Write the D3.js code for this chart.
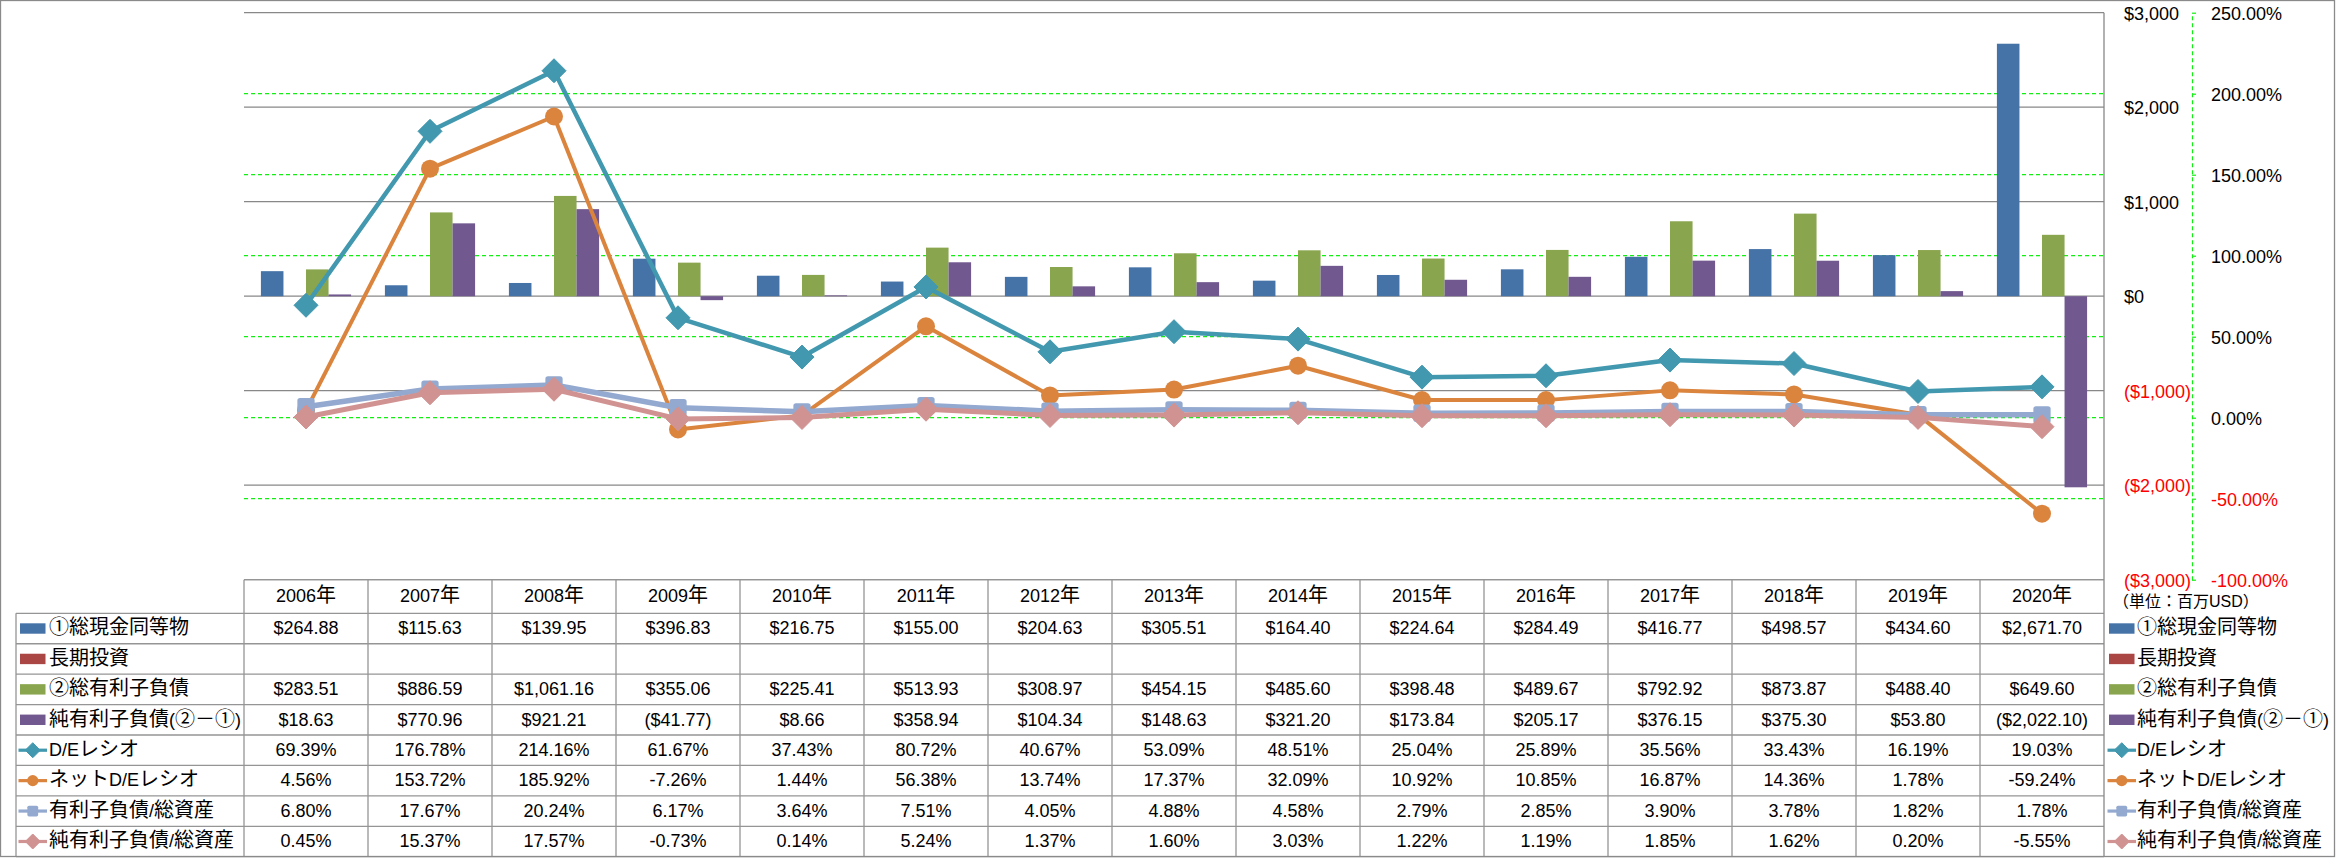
<!DOCTYPE html>
<html><head><meta charset="utf-8">
<script src="https://cdn.jsdelivr.net/npm/d3@7"></script>
<style>body{margin:0;background:#fff} svg{display:block}</style>
</head><body><svg id="c" width="2336" height="858"></svg>
<script>
// ---------------- data ----------------
const years = ["2006年","2007年","2008年","2009年","2010年","2011年","2012年","2013年","2014年","2015年","2016年","2017年","2018年","2019年","2020年"];
const cashEq = [264.88,115.63,139.95,396.83,216.75,155.00,204.63,305.51,164.40,224.64,284.49,416.77,498.57,434.60,2671.70];
const longInv = [null,null,null,null,null,null,null,null,null,null,null,null,null,null,null];
const totalDebt = [283.51,886.59,1061.16,355.06,225.41,513.93,308.97,454.15,485.60,398.48,489.67,792.92,873.87,488.40,649.60];
const netDebt = [18.63,770.96,921.21,-41.77,8.66,358.94,104.34,148.63,321.20,173.84,205.17,376.15,375.30,53.80,-2022.10];
const deRatio = [69.39,176.78,214.16,61.67,37.43,80.72,40.67,53.09,48.51,25.04,25.89,35.56,33.43,16.19,19.03];
const netDeRatio = [4.56,153.72,185.92,-7.26,1.44,56.38,13.74,17.37,32.09,10.92,10.85,16.87,14.36,1.78,-59.24];
const debtToAssets = [6.80,17.67,20.24,6.17,3.64,7.51,4.05,4.88,4.58,2.79,2.85,3.90,3.78,1.82,1.78];
const netDebtToAssets = [0.45,15.37,17.57,-0.73,0.14,5.24,1.37,1.60,3.03,1.22,1.19,1.85,1.62,0.20,-5.55];
const barNames = ["①総現金同等物","長期投資","②総有利子負債","純有利子負債(②－①)"];
const lineNames = ["D/Eレシオ","ネットD/Eレシオ","有利子負債/総資産","純有利子負債/総資産"];
const usdTicks = [3000,2000,1000,0,-1000,-2000,-3000];
const pctTicks = [250,200,150,100,50,0,-50,-100];
const unitLabel = "（単位：百万USD）";

// ---------------- styles ----------------
const barColors = ["#4572A7","#AA4643","#89A54E","#71588F"];
const lineColors = ["#4198AF","#DB843D","#93A9CF","#D19392"];
const lineWidths = [4.5,4,5.5,5];
const markerTypes = ["diamond","circle","square","diamond"];
const LATIN = "'Liberation Sans', Arial, sans-serif";
const CJK = "'Noto Sans CJK JP', 'Noto Sans CJK SC', sans-serif";

const svg = d3.select("#c");
const plotL = 244, plotR = 2104, plotT = 12.7, plotB = 579.7;
const tableTop = plotB, headerH = 33.6, rowH = 30.425, tableLeft = 16;
const legendKeyX = 20, legendKeyW = 25.5;

const x = d3.scaleBand().domain(years).range([plotL, plotR]);
const xs = d3.scaleBand().domain(d3.range(4)).range([0, x.bandwidth()]).paddingInner(0).paddingOuter(0.75);
const yL = d3.scaleLinear().domain([-3000, 3000]).range([plotB, plotT]);
const yR = d3.scaleLinear().domain([-100, 250]).range([plotB, plotT]);

const cjkRe = /([\u2460-\u24FF\u3000-\u30FF\u4E00-\u9FFF\uFF00-\uFFEF]+)/;
function richText(g, str, px, py, anchor, fill, latinSize, cjkSize) {
  const t = g.append("text").attr("x", px).attr("y", py).attr("text-anchor", anchor)
    .attr("dy", "0.36em").attr("fill", fill || "#000");
  str.split(cjkRe).filter(s => s.length).forEach(s => {
    const isC = cjkRe.test(s);
    t.append("tspan").attr("font-family", isC ? CJK : LATIN)
      .attr("font-size", isC ? (cjkSize || 20) : (latinSize || 18)).text(s);
  });
  return t;
}
const fmtUsd = v => v == null ? "" : (v < 0 ? "($" + d3.format(",.2f")(-v) + ")" : "$" + d3.format(",.2f")(v));
const fmtPct = v => v == null ? "" : (v < 0 ? "-" : "") + Math.abs(v).toFixed(2) + "%";

// ---------------- gridlines ----------------
const grid = svg.append("g");
grid.selectAll("line.g1").data(usdTicks).join("line")
  .attr("x1", plotL).attr("x2", plotR).attr("y1", d => yL(d)).attr("y2", d => yL(d))
  .attr("stroke", "#888").attr("stroke-width", 1.3);
grid.selectAll("line.g2").data(pctTicks.filter(d => d < 250 && d > -100)).join("line")
  .attr("x1", plotL).attr("x2", plotR).attr("y1", d => yR(d)).attr("y2", d => yR(d))
  .attr("stroke", "#11ee11").attr("stroke-width", 1.2).attr("stroke-dasharray", "4,3");

// ---------------- bars ----------------
const barData = [cashEq, longInv, totalDebt, netDebt];
barData.forEach((arr, si) => {
  svg.append("g").selectAll("rect").data(arr.map((v, i) => ({v, y: years[i]})).filter(d => d.v != null)).join("rect")
    .attr("x", d => x(d.y) + xs(si)).attr("width", xs.bandwidth())
    .attr("y", d => Math.min(yL(d.v), yL(0))).attr("height", d => Math.abs(yL(d.v) - yL(0)))
    .attr("fill", barColors[si]);
});

// ---------------- lines ----------------
function drawMarker(g, type, cx, cy, color, s) {
  if (type === "diamond") g.append("path").attr("d", `M0,${-s}L${s},0L0,${s}L${-s},0Z`).attr("transform", `translate(${cx},${cy})`).attr("fill", color).attr("stroke", color).attr("stroke-width", 1).attr("stroke-linejoin", "round");
  else if (type === "circle") g.append("circle").attr("cx", cx).attr("cy", cy).attr("r", s * 0.75).attr("fill", color);
  else g.append("rect").attr("x", cx - s * 0.72).attr("y", cy - s * 0.72).attr("width", s * 1.44).attr("height", s * 1.44).attr("rx", s * 0.22).attr("fill", color);
}
const lineData = [deRatio, netDeRatio, debtToAssets, netDebtToAssets];
const cx = d => x(d) + x.bandwidth() / 2;
lineData.forEach((arr, si) => {
  const g = svg.append("g");
  const pts = arr.map((v, i) => ({v, y: years[i]}));
  g.append("path").datum(pts)
    .attr("d", d3.line().x(d => cx(d.y)).y(d => yR(d.v)))
    .attr("fill", "none").attr("stroke", lineColors[si]).attr("stroke-width", lineWidths[si])
    .attr("stroke-linejoin", "round").attr("stroke-linecap", "round");
  pts.forEach(d => drawMarker(g, markerTypes[si], cx(d.y), yR(d.v), lineColors[si], 12));
});

// ---------------- axes ----------------
const pctAxis = d3.axisRight(yR).tickValues(pctTicks).tickSize(4).tickSizeOuter(0).tickPadding(15)
  .tickFormat(d => (d < 0 ? "-" : "") + Math.abs(d).toFixed(2) + "%");
const ga = svg.append("g").attr("transform", "translate(2192,0)").call(pctAxis);
ga.selectAll("path,line").attr("stroke", "#11ee11").attr("stroke-width", 1.2).attr("stroke-dasharray", "4,3");
ga.selectAll("text").attr("font-family", LATIN).attr("font-size", 18).attr("fill", d => d < 0 ? "#ff0000" : "#000").attr("dy", "0.36em");

const usdAxis = d3.axisRight(yL).tickValues(usdTicks).tickSize(0).tickPadding(0)
  .tickFormat(d => d < 0 ? "($" + d3.format(",")(-d) + ")" : "$" + d3.format(",")(d));
const gu = svg.append("g").attr("transform", "translate(2124,0)").call(usdAxis);
gu.select(".domain").remove();
gu.selectAll("text").attr("font-family", LATIN).attr("font-size", 18).attr("fill", d => d < 0 ? "#ff0000" : "#000").attr("dy", "0.36em");

// ---------------- data table ----------------
const tg = svg.append("g");
const rowNames = barNames.concat(lineNames);
const rowVals = barData.map(a => a.map(fmtUsd)).concat(lineData.map(a => a.map(fmtPct)));
const rowY = i => tableTop + headerH + i * rowH;
const tableBottom = rowY(rowNames.length);
const lc = "#959595";
years.forEach(yv => richText(tg, yv, cx(yv), tableTop + headerH / 2, "middle", "#000"));
tg.append("line").attr("x1", plotL).attr("x2", plotR).attr("y1", tableTop).attr("y2", tableTop).attr("stroke", lc).attr("stroke-width", 1.3);
d3.range(rowNames.length + 1).forEach(i => {
  tg.append("line").attr("x1", tableLeft).attr("x2", plotR).attr("y1", rowY(i)).attr("y2", rowY(i)).attr("stroke", lc).attr("stroke-width", 1.3);
});
tg.append("line").attr("x1", tableLeft).attr("x2", tableLeft).attr("y1", rowY(0)).attr("y2", tableBottom).attr("stroke", lc).attr("stroke-width", 1.3);
years.forEach(yv => tg.append("line").attr("x1", x(yv)).attr("x2", x(yv)).attr("y1", tableTop).attr("y2", tableBottom).attr("stroke", lc).attr("stroke-width", 1.3));
tg.append("line").attr("x1", plotR).attr("x2", plotR).attr("y1", plotT).attr("y2", tableBottom).attr("stroke", "#888").attr("stroke-width", 1.3);

function legendKey(g, i, kx, ky) {
  if (i < 4) {
    g.append("rect").attr("x", kx).attr("y", ky - 5.2).attr("width", legendKeyW).attr("height", 10.4).attr("fill", barColors[i]);
  } else {
    const k = i - 4;
    g.append("line").attr("x1", kx - 1.5).attr("x2", kx + legendKeyW + 1.5).attr("y1", ky).attr("y2", ky).attr("stroke", lineColors[k]).attr("stroke-width", 3.2);
    drawMarker(g, markerTypes[k], kx + legendKeyW / 2, ky, lineColors[k], 7.5);
  }
}
rowNames.forEach((name, i) => {
  const ry = rowY(i) + rowH / 2;
  legendKey(tg, i, legendKeyX, ry);
  richText(tg, name, 49, ry, "start", "#000");
  rowVals[i].forEach((v, j) => { if (v) richText(tg, v, cx(years[j]), ry, "middle", "#000"); });
  legendKey(tg, i, 2109, ry);
  richText(tg, name, 2137, ry, "start", "#000");
});
richText(tg, unitLabel, 2113, 601.5, "start", "#000", 16, 16);

// outer border
svg.append("rect").attr("x", 0.5).attr("y", 0.5).attr("width", 2334).attr("height", 856).attr("fill", "none").attr("stroke", "#8a8a8a").attr("stroke-width", 1.3);
</script></body></html>
